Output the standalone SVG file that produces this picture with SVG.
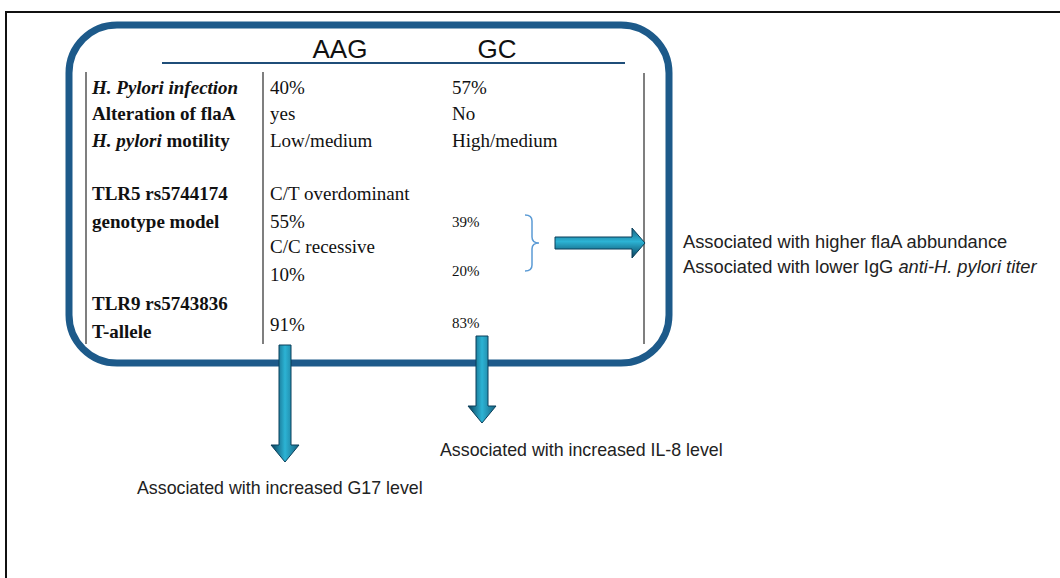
<svg xmlns="http://www.w3.org/2000/svg" width="1060" height="578" viewBox="0 0 1060 578">
<defs>
<linearGradient id="gh" x1="0" y1="0" x2="0" y2="1">
<stop offset="0" stop-color="#17617f"/><stop offset="0.45" stop-color="#2cb3d4"/><stop offset="1" stop-color="#0a3f5a"/>
</linearGradient>
<linearGradient id="gv" x1="0" y1="0" x2="1" y2="0">
<stop offset="0" stop-color="#0a3f5a"/><stop offset="0.5" stop-color="#2cb3d4"/><stop offset="1" stop-color="#17617f"/>
</linearGradient>
<style>
.serif{font-family:"Liberation Serif","Times New Roman",serif;font-size:19px;fill:#111}
.b{font-weight:bold}
.bi{font-weight:bold;font-style:italic}
.sm{font-size:15px}
.sans{font-family:"Liberation Sans",Arial,sans-serif;font-size:17.8px;fill:#222}
.rt{font-size:18.3px}
.hdr{font-family:"Liberation Sans",Arial,sans-serif;font-size:26px;fill:#111}
.vl{stroke:#555;stroke-width:1.5;fill:none}
.arrow{stroke:#0a3f5a;stroke-width:1}
</style>
</defs>
<rect width="1060" height="578" fill="#fff"/>
<path d="M6 578 V12 H1060" fill="none" stroke="#111" stroke-width="2"/>

<g id="box">
<rect x="69" y="25" width="600" height="338" rx="48" ry="48" fill="none" stroke="#1d5a8a" stroke-width="7"/>
<line x1="162" y1="63" x2="625" y2="63" stroke="#1f4e79" stroke-width="2"/>
<text class="hdr" x="340" y="58" text-anchor="middle">AAG</text>
<text class="hdr" x="497" y="58" text-anchor="middle">GC</text>
<line class="vl" x1="86" y1="72" x2="86" y2="344"/>
<line class="vl" x1="263" y1="72" x2="263" y2="344"/>
<line class="vl" x1="644" y1="73" x2="644" y2="344"/>
</g>

<g id="rowlabels" class="serif">
<text x="92" y="94" class="bi">H. Pylori infection</text>
<text x="92" y="120" class="b">Alteration of flaA</text>
<text x="92" y="147" class="b"><tspan font-style="italic">H. pylori</tspan> motility</text>
<text x="92" y="200" class="b">TLR5 rs5744174</text>
<text x="92" y="228" class="b">genotype model</text>
<text x="92" y="310" class="b">TLR9 rs5743836</text>
<text x="92" y="338" class="b">T-allele</text>
</g>

<g id="aag" class="serif">
<text x="270" y="94">40%</text>
<text x="270" y="120">yes</text>
<text x="270" y="147">Low/medium</text>
<text x="270" y="200">C/T overdominant</text>
<text x="270" y="228">55%</text>
<text x="270" y="253">C/C recessive</text>
<text x="270" y="281">10%</text>
<text x="270" y="331">91%</text>
</g>

<g id="gc" class="serif">
<text x="452" y="94">57%</text>
<text x="452" y="120">No</text>
<text x="452" y="147">High/medium</text>
<text x="452" y="227" class="sm">39%</text>
<text x="452" y="276" class="sm">20%</text>
<text x="452" y="328" class="sm">83%</text>
</g>

<g id="connectors">
<path d="M525 215 Q532 215 532 221 V237 Q532 243 539 243 Q532 243 532 249 V265 Q532 271 525 271" fill="none" stroke="#5b9bd5" stroke-width="1.5"/>
<polygon class="arrow" fill="url(#gh)" points="555,237 632,237 632,228 645,243 632,258 632,249 555,249"/>
<polygon class="arrow" fill="url(#gv)" points="279,345 291,345 291,445 299,445 285,462 271,445 279,445"/>
<polygon class="arrow" fill="url(#gv)" points="476,336 488,336 488,406 496,406 482,423 468,406 476,406"/>
</g>

<g id="outcomes" class="sans">
<text x="683" y="248" class="rt">Associated with higher flaA abbundance</text>
<text x="683" y="273" class="rt">Associated with lower IgG <tspan font-style="italic">anti-H. pylori titer</tspan></text>
<text x="440" y="456">Associated with increased IL-8 level</text>
<text x="137" y="494">Associated with increased G17 level</text>
</g>
</svg>
